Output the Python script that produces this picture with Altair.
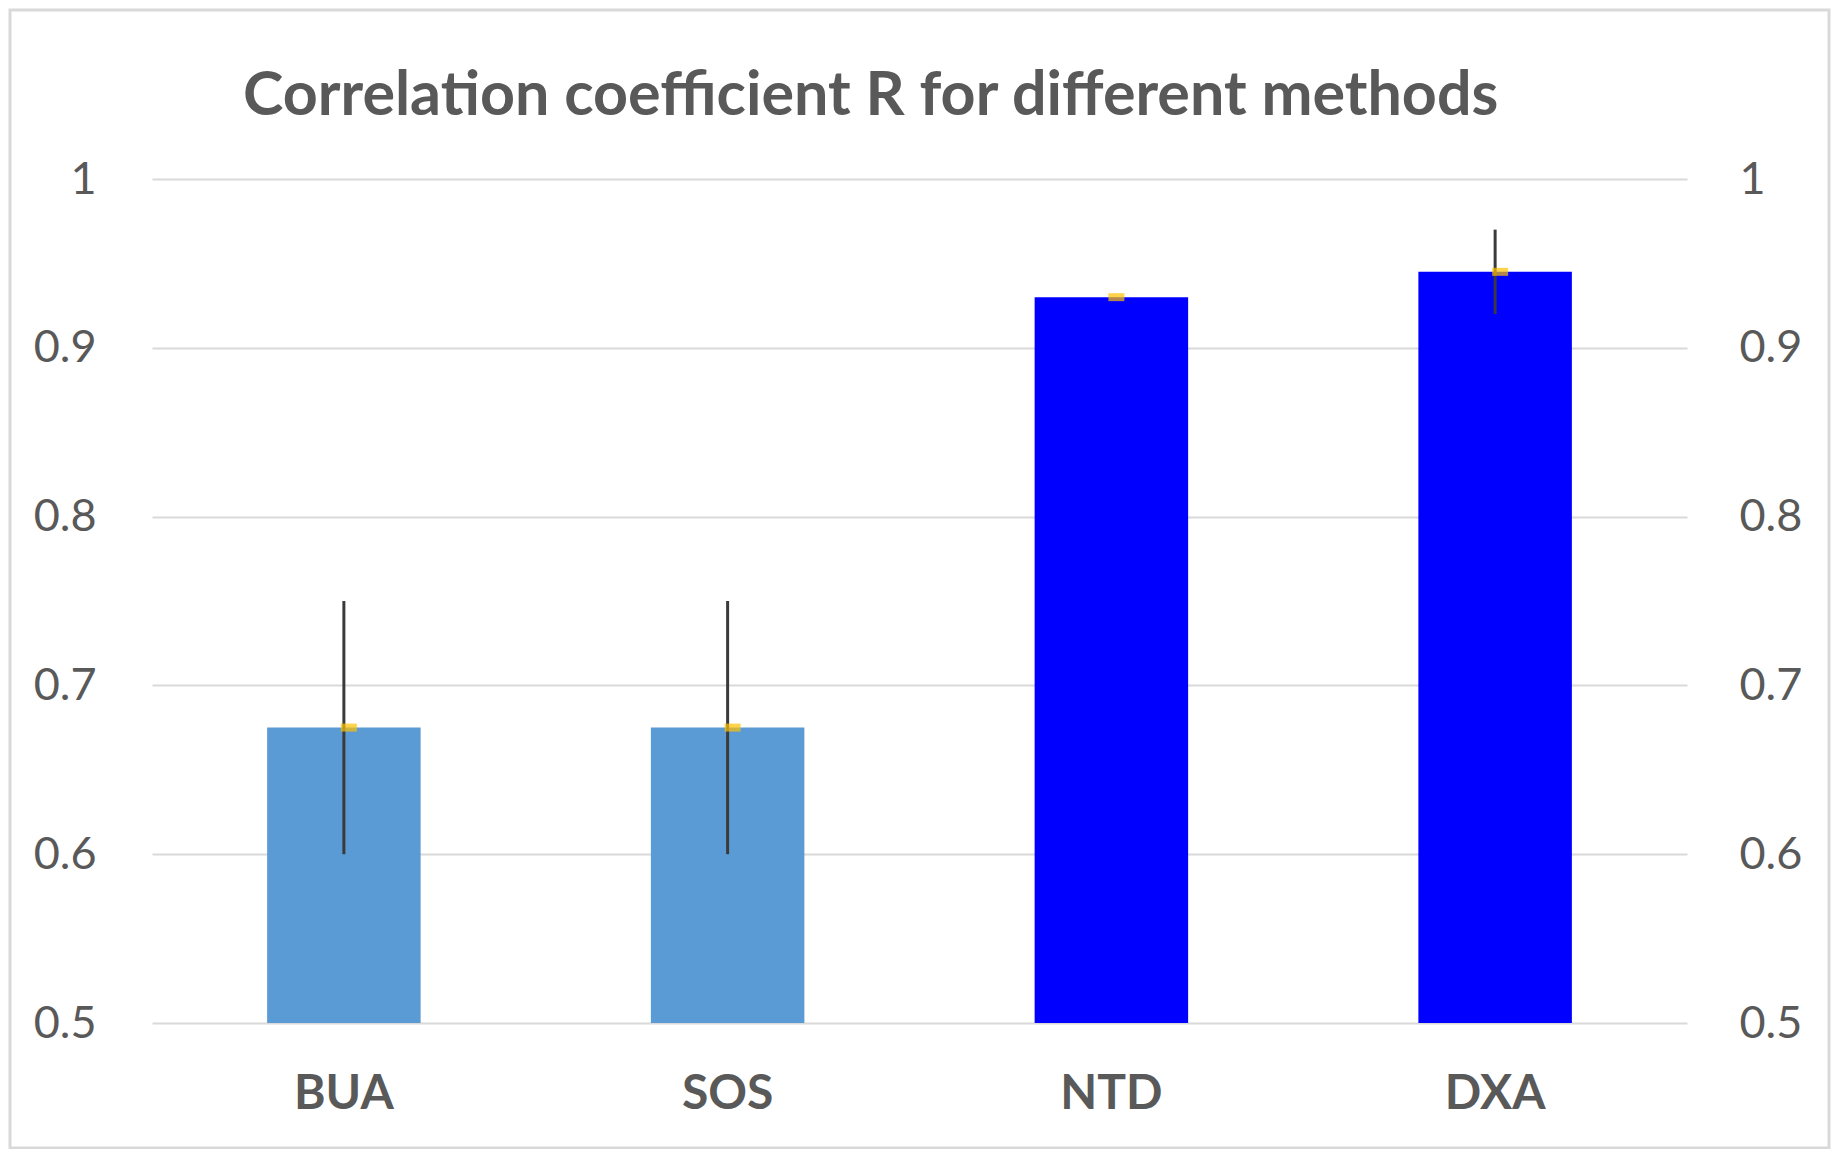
import altair as alt
import pandas as pd

methods = ["BUA", "SOS", "NTD", "DXA"]
r_values = [0.675, 0.675, 0.93, 0.945]
err_low = [0.60, 0.60, 0.93, 0.92]
err_high = [0.75, 0.75, 0.93, 0.97]
bar_colors = ["#5B9BD5", "#5B9BD5", "#0000FF", "#0000FF"]
y_ticks = [0.5, 0.6, 0.7, 0.8, 0.9, 1.0]
title_text = "Correlation coefficient R for different methods"

df = pd.DataFrame({
    "method": methods,
    "r": r_values,
    "lo": err_low,
    "hi": err_high,
    "color": bar_colors,
    "base": [0.5] * len(methods),
})
title_df = pd.DataFrame({"t": [title_text]})

W, H = 1535, 844
GRAY = "#595959"

x = alt.X(
    "method:N",
    sort=methods,
    scale=alt.Scale(paddingInner=0.6, paddingOuter=0.3),
    axis=alt.Axis(
        title=None, labelFont="Lato", labelFontWeight="bold", labelFontSize=48,
        labelColor=GRAY, labelPadding=47, ticks=False, domain=False, labelAngle=0,
    ),
)
yscale = alt.Scale(domain=[0.5, 1.0], nice=False, zero=False)

def yaxis(orient, grid):
    return alt.Axis(
        orient=orient, values=y_ticks, format="~g", title=None,
        labelFont="Lato", labelFontSize=45, labelColor=GRAY,
        labelPadding=56 if orient == "left" else 52,
        ticks=False, domain=False, grid=grid,
        gridColor="#d9d9d9", gridWidth=2,
    )

border = alt.Chart(title_df).mark_rect(fill=None, stroke="#d9d9d9", strokeWidth=3, clip=False).encode(
    x=alt.value(-142), x2=alt.value(W + 142), y=alt.value(-169), y2=alt.value(H + 125)
)

title = alt.Chart(title_df).mark_text(
    font="Lato", fontSize=61, fontWeight="bold", color=GRAY,
    align="left", baseline="alphabetic", clip=False,
).encode(x=alt.value(91), y=alt.value(-64), text="t:N")

bars = alt.Chart(df).mark_bar().encode(
    x=x,
    y=alt.Y("r:Q", scale=yscale, axis=yaxis("left", True)),
    y2="base:Q",
    color=alt.Color("color:N", scale=None),
)

rules = alt.Chart(df).mark_rule(color="#3a3a3a", strokeWidth=3).encode(
    x=x, y=alt.Y("lo:Q", scale=yscale, axis=None), y2="hi:Q"
)

ticks = alt.Chart(df).mark_tick(color="#FFC000", thickness=8, size=16, xOffset=5).encode(
    x=x, y=alt.Y("r:Q", scale=yscale, axis=yaxis("right", False))
)

chart = (
    alt.layer(bars, rules, ticks, border, title)
    .resolve_axis(y="independent")
    .properties(
        width=W, height=H,
        autosize=alt.AutoSizeParams(type="none"),
        padding={"left": 144, "top": 171, "right": 144, "bottom": 126},
        background="white",
    )
    .configure_view(stroke=None)
)

chart.save("out.html", embed_options={"renderer": "svg", "actions": False})
